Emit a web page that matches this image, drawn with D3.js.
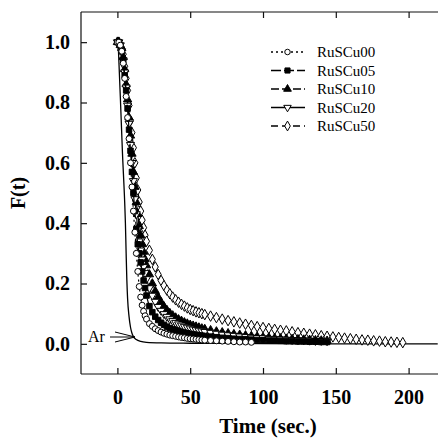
<!DOCTYPE html>
<html>
<head>
<meta charset="utf-8">
<script src="https://cdn.jsdelivr.net/npm/d3@7"></script>
<style>
  body { margin: 0; background: #fff; }
  text { font-family: "Liberation Serif", "Times New Roman", serif; fill: #000; }
</style>
</head>
<body>
<div id="chart"></div>
<script>
// shared sampling times (sec.)
const times = [0,1,2,3,4,5,6,7,8,9,10,11,12,13,14,15,16,17,18,19,20,
  22,24,26,28,30,32,34,36,38,40,42,44,46,48,50,52,54,56,58,60,
  64,68,72,76,80,84,88,92,96,100,104,108,112,116,120,124,128,132,136,140,144,
  148,152,156,160,164,168,172,176,180,184,188,192,196]

const ruscu00 = [1.00,1.00,0.99,0.97,0.93,0.88,0.82,0.75,0.68,0.60,0.52,0.44,0.37,0.30,0.24,0.19,0.155,0.128,0.108,0.093,0.082,
  0.067,0.058,0.050,0.044,0.039,0.035,0.032,0.029,0.027,0.025,0.023,0.021,0.020,0.018,0.017,0.016,0.015,0.014,0.013,0.012,
  0.011,0.010,0.009,0.008,0.007,0.006,0.006,0.005]
const ruscu05 = [1.00,1.00,0.99,0.97,0.94,0.89,0.84,0.78,0.71,0.64,0.57,0.50,0.44,0.38,0.33,0.30,0.27,0.24,0.21,0.185,0.16,
  0.125,0.105,0.090,0.079,0.070,0.063,0.057,0.052,0.048,0.045,0.042,0.039,0.037,0.035,0.033,0.031,0.030,0.028,0.027,0.026,
  0.024,0.022,0.020,0.019,0.017,0.016,0.015,0.014,0.013,0.012,0.011,0.011,0.010,0.009,0.009,0.008,0.008,0.007,0.007,0.006,0.006]
const ruscu10 = [1.00,1.00,0.99,0.98,0.95,0.91,0.86,0.81,0.75,0.69,0.63,0.57,0.52,0.47,0.43,0.39,0.36,0.33,0.305,0.28,0.26,
  0.23,0.20,0.175,0.155,0.138,0.124,0.112,0.102,0.094,0.087,0.081,0.076,0.071,0.067,0.063,0.060,0.057,0.054,0.051,0.049,
  0.045,0.041,0.038,0.035,0.032,0.030,0.028,0.026,0.024,0.022,0.021,0.019,0.018,0.017,0.016,0.015,0.014,0.013,0.012,0.011,0.010]
const ruscu20 = [1.00,1.00,0.99,0.97,0.94,0.90,0.85,0.79,0.73,0.66,0.60,0.54,0.48,0.43,0.38,0.34,0.31,0.28,0.255,0.235,0.215,
  0.185,0.16,0.14,0.123,0.110,0.099,0.090,0.082,0.076,0.070,0.065,0.061,0.057,0.054,0.051,0.048,0.046,0.044,0.042,0.040,
  0.037,0.034,0.031,0.029,0.027,0.025,0.023,0.021,0.020,0.019,0.017,0.016,0.015,0.014,0.013,0.012,0.012,0.011,0.010,0.010,0.009]
const ruscu50 = [1.00,1.00,0.99,0.98,0.96,0.92,0.88,0.84,0.79,0.74,0.70,0.65,0.60,0.55,0.51,0.47,0.44,0.41,0.385,0.36,0.34,
  0.31,0.28,0.255,0.23,0.21,0.193,0.178,0.166,0.155,0.146,0.138,0.131,0.125,0.119,0.114,0.110,0.106,0.103,0.100,0.097,
  0.092,0.087,0.082,0.077,0.073,0.069,0.065,0.061,0.057,0.054,0.051,0.048,0.045,0.043,0.040,0.037,0.035,0.032,0.030,0.027,0.025,
  0.023,0.021,0.019,0.017,0.015,0.013,0.012,0.010,0.009,0.007,0.006,0.005,0.004]

// argon reference curve
const arTimes = [0.5,2,3.5,5,5.5,6,6.5,7,8,9,10,11,13,16,20,30,50,100,150,220]
const arValues = [1.0,0.82,0.63,0.47,0.40,0.30,0.21,0.15,0.09,0.055,0.035,0.024,0.014,0.008,0.005,0.003,0.002,0.001,0.0,0.0]

const xTicks = [0, 50, 100, 150, 200]
const yTicks = [0, 0.2, 0.4, 0.6, 0.8, 1.0]

const W = 438, H = 442
const plot = {left: 81, top: 12, bottom: 374, right: 438}

const svg = d3.select('#chart').append('svg')
  .attr('width', W)
  .attr('height', H)

const x = d3.scaleLinear().domain([-25, 220]).range([plot.left, plot.left + 245 * 1.456])
const y = d3.scaleLinear().domain([-0.1, 1.1]).range([plot.bottom, plot.top])

// frame (left, top, bottom) - right side is cut off in the original
const frame = svg.append('g').attr('stroke', '#111').attr('stroke-width', 1.2)
frame.append('line').attr('x1', plot.left).attr('x2', plot.left).attr('y1', plot.top).attr('y2', plot.bottom)
frame.append('line').attr('x1', plot.left).attr('x2', plot.right).attr('y1', plot.top).attr('y2', plot.top)
frame.append('line').attr('x1', plot.left).attr('x2', plot.right).attr('y1', plot.bottom).attr('y2', plot.bottom)

const xAxis = svg.append('g')
  .attr('transform', 'translate(0,' + plot.bottom + ')')
  .call(d3.axisBottom(x).tickValues(xTicks).tickSizeInner(-6).tickSizeOuter(0).tickPadding(16))
xAxis.select('.domain').remove()
xAxis.selectAll('text').attr('font-size', 20).attr('font-weight', 'bold')
  .attr('font-family', '"Liberation Serif", serif')

const xTop = svg.append('g')
  .attr('transform', 'translate(0,' + plot.top + ')')
  .call(d3.axisTop(x).tickValues(xTicks).tickSizeInner(-6).tickSizeOuter(0).tickFormat(''))
xTop.select('.domain').remove()

const yAxis = svg.append('g')
  .attr('transform', 'translate(' + plot.left + ',0)')
  .call(d3.axisLeft(y).tickValues(yTicks).tickSizeInner(-6).tickSizeOuter(0).tickPadding(11).tickFormat(d3.format('.1f')))
yAxis.select('.domain').remove()
yAxis.selectAll('text').attr('font-size', 20).attr('font-weight', 'bold')
  .attr('font-family', '"Liberation Serif", serif')

svg.selectAll('.tick line').attr('stroke', '#111').attr('stroke-width', 1.2)

// axis titles
svg.append('text')
  .attr('x', 268).attr('y', 433)
  .attr('text-anchor', 'middle')
  .attr('font-size', 21).attr('font-weight', 'bold')
  .text('Time (sec.)')

svg.append('text')
  .attr('transform', 'translate(25,193) rotate(-90)')
  .attr('text-anchor', 'middle')
  .attr('font-size', 20).attr('font-weight', 'bold')
  .text('F(t)')

// series definitions
const series = [
  {name: 'RuSCu50', values: ruscu50, symbol: d3.symbolDiamond, size: 32, fill: '#fff', dash: '7,4'},
  {name: 'RuSCu10', values: ruscu10, symbol: d3.symbolTriangle, size: 30, fill: '#000', dash: '8,3'},
  {name: 'RuSCu20', values: ruscu20, symbol: d3.symbolTriangle, size: 28, fill: '#fff', dash: null, rot: 180},
  {name: 'RuSCu05', values: ruscu05, symbol: d3.symbolSquare, size: 30, fill: '#000', dash: '10,3'},
  {name: 'RuSCu00', values: ruscu00, symbol: d3.symbolCircle, size: 28, fill: '#fff', dash: '2,3'}
]

const line = d3.line()
  .x(d => x(d[0]))
  .y(d => y(d[1]))
  .curve(d3.curveMonotoneX)

// Ar curve
svg.append('path')
  .datum(d3.zip(arTimes, arValues))
  .attr('fill', 'none')
  .attr('stroke', '#000')
  .attr('stroke-width', 1.3)
  .attr('d', line)

series.forEach(s => {
  const pts = d3.zip(times, s.values)
  svg.append('path')
    .datum(pts)
    .attr('fill', 'none')
    .attr('stroke', '#000')
    .attr('stroke-width', 1.2)
    .attr('stroke-dasharray', s.dash)
    .attr('d', line)
  svg.append('g').selectAll('path')
    .data(pts)
    .join('path')
    .attr('transform', d => 'translate(' + x(d[0]) + ',' + y(d[1]) + ')' + (s.rot ? ' rotate(' + s.rot + ')' : ''))
    .attr('d', d3.symbol().type(s.symbol).size(s.size))
    .attr('fill', s.fill)
    .attr('stroke', '#000')
    .attr('stroke-width', 1)
})

// Ar label with open arrow
svg.append('text')
  .attr('x', 88).attr('y', 342)
  .attr('font-size', 16)
  .text('Ar')
const arrow = svg.append('g').attr('stroke', '#000').attr('stroke-width', 1).attr('fill', 'none')
arrow.append('line').attr('x1', 110).attr('x2', 135).attr('y1', 337).attr('y2', 337)
arrow.append('line').attr('x1', 115).attr('x2', 135).attr('y1', 332).attr('y2', 337)
arrow.append('line').attr('x1', 115).attr('x2', 135).attr('y1', 342).attr('y2', 337)

// legend
const legendOrder = ['RuSCu00', 'RuSCu05', 'RuSCu10', 'RuSCu20', 'RuSCu50']
const legend = svg.append('g')
legendOrder.forEach((name, i) => {
  const s = series.find(d => d.name === name)
  const ly = 52 + i * 18.5
  legend.append('line')
    .attr('x1', 271).attr('x2', 305).attr('y1', ly).attr('y2', ly)
    .attr('stroke', '#000').attr('stroke-width', 1.5)
    .attr('stroke-dasharray', s.dash)
  legend.append('path')
    .attr('transform', 'translate(287.5,' + ly + ')' + (s.rot ? ' rotate(' + s.rot + ')' : ''))
    .attr('d', d3.symbol().type(s.symbol).size(s.size - 4))
    .attr('fill', s.fill)
    .attr('stroke', '#000')
    .attr('stroke-width', 1)
  legend.append('text')
    .attr('x', 317).attr('y', ly + 5)
    .attr('font-size', 15)
    .text(name)
})
</script>
</body>
</html>
